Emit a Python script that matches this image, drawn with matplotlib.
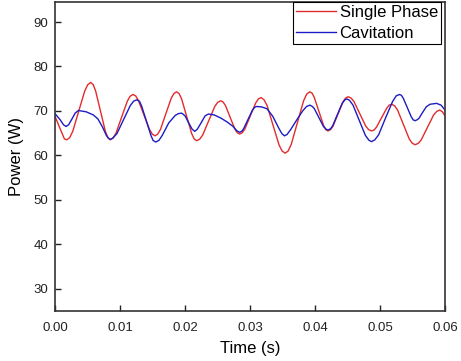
import matplotlib.pyplot as plt

plt.rcParams['font.family'] = ['Liberation Sans', 'DejaVu Sans']

# values
t_single = [0.0, 0.0009, 0.00145, 0.0018, 0.00226, 0.00273, 0.00365, 0.00458, 0.00504, 0.0055,
            0.00588, 0.00625, 0.007, 0.00775, 0.00813, 0.0085, 0.00894, 0.00938, 0.01025, 0.01113,
            0.01156, 0.012, 0.01243, 0.01285, 0.0137, 0.01455, 0.01498, 0.0154, 0.01581, 0.01623,
            0.01705, 0.01788, 0.01829, 0.0187, 0.01909, 0.01948, 0.02025, 0.02103, 0.02141, 0.0218,
            0.02226, 0.02273, 0.02365, 0.02458, 0.02504, 0.0255, 0.02586, 0.02623, 0.02695, 0.02768,
            0.02804, 0.0284, 0.02881, 0.02923, 0.03005, 0.03088, 0.03129, 0.0317, 0.03216, 0.03263,
            0.03355, 0.03448, 0.03494, 0.0354, 0.03588, 0.03635, 0.0373, 0.03825, 0.03873, 0.0392,
            0.03955, 0.0399, 0.0406, 0.0413, 0.04165, 0.042, 0.04239, 0.04278, 0.04355, 0.04433,
            0.04471, 0.0451, 0.04555, 0.046, 0.0469, 0.0478, 0.04825, 0.0487, 0.04909, 0.04948,
            0.05025, 0.05103, 0.05141, 0.0518, 0.05225, 0.0527, 0.0536, 0.0545, 0.05495, 0.0554,
            0.05588, 0.05635, 0.0573, 0.05825, 0.05873, 0.0592, 0.0596, 0.06]
p_single = [68.8, 65.6, 63.7, 63.5, 63.99, 65.4, 69.95, 74.5, 75.9, 76.4,
            75.9, 74.5, 69.95, 65.4, 64.0, 63.5, 63.9, 65.0, 68.6, 72.2,
            73.3, 73.7, 73.35, 72.3, 69.05, 65.8, 64.75, 64.4, 64.8, 65.85,
            69.35, 72.85, 73.9, 74.3, 73.9, 72.7, 68.8, 64.9, 63.7, 63.3,
            63.65, 64.6, 67.8, 71.0, 71.95, 72.3, 72.0, 71.2, 68.55, 65.9,
            65.1, 64.8, 65.1, 66.0, 68.9, 71.8, 72.7, 73.0, 72.5, 71.2,
            66.75, 62.3, 61.0, 60.5, 61.0, 62.5, 67.4, 72.3, 73.8, 74.3,
            74.0, 73.0, 69.9, 66.8, 65.8, 65.5, 65.8, 66.6, 69.35, 72.1,
            72.9, 73.2, 72.9, 72.1, 69.35, 66.6, 65.8, 65.5, 65.7, 66.4,
            68.5, 70.6, 71.3, 71.5, 71.15, 70.2, 66.95, 63.7, 62.75, 62.4,
            62.7, 63.5, 66.3, 69.1, 69.9, 70.2, 69.8, 68.9]

t_cav = [0.0, 0.0008, 0.0013, 0.0017, 0.0021, 0.00265, 0.0031, 0.0036, 0.0048, 0.0059,
         0.0066, 0.0073, 0.0079, 0.0082, 0.0085, 0.0089, 0.00953, 0.01055, 0.01158, 0.0121,
         0.0126, 0.0130, 0.01333, 0.01405, 0.01478, 0.0151, 0.0155, 0.0160, 0.0165, 0.0175,
         0.0185, 0.0190, 0.0195, 0.0200, 0.0205, 0.0211, 0.0215, 0.0219, 0.02255, 0.0231,
         0.0236, 0.0245, 0.0255, 0.0265, 0.0274, 0.0280, 0.0284, 0.0288, 0.02905, 0.0297,
         0.03035, 0.0307, 0.031, 0.0318, 0.0326, 0.0335, 0.0344, 0.0349, 0.0353, 0.0357,
         0.0363, 0.0372, 0.0381, 0.0387, 0.0392, 0.0396, 0.0399, 0.0406, 0.0413, 0.0417,
         0.042, 0.0424, 0.04273, 0.04345, 0.04418, 0.0446, 0.0449, 0.0453, 0.04585, 0.0468,
         0.04775, 0.0483, 0.0487, 0.0492, 0.04978, 0.05085, 0.05193, 0.0525, 0.053, 0.0533,
         0.0536, 0.0542, 0.0548, 0.0551, 0.0554, 0.0557, 0.05598, 0.05655, 0.05713, 0.0577,
         0.0587, 0.0594, 0.06]
p_cav = [69.4, 68.0, 66.9, 66.5, 66.9, 68.3, 69.5, 70.1, 69.8, 69.1,
         68.2, 66.4, 64.5, 63.9, 63.6, 63.9, 64.9, 68.05, 71.2, 72.2,
         72.5, 72.15, 71.1, 67.75, 64.4, 63.35, 63.0, 63.4, 64.5, 67.3,
         69.0, 69.4, 69.5, 68.9, 67.5, 65.9, 65.4, 65.9, 67.5, 68.9,
         69.3, 69.1, 68.4, 67.5, 66.5, 65.5, 65.2, 65.5, 66.1, 68.1,
         70.1, 70.8, 71.0, 70.9, 70.5, 68.8, 66.2, 64.9, 64.4, 64.7,
         65.9, 68.0, 70.0, 71.0, 71.3, 71.0, 70.5, 68.5, 66.5, 65.9,
         65.7, 66.0, 66.7, 69.2, 71.7, 72.5, 72.7, 72.4, 71.3, 67.9,
         64.5, 63.4, 63.1, 63.5, 64.6, 68.4, 72.1, 73.4, 73.7, 73.5,
         72.8, 70.75, 68.7, 68.0, 67.8, 68.0, 68.3, 69.65, 70.95, 71.5,
         71.7, 71.3, 70.2]

fig = plt.figure(figsize=(4.61, 3.61), dpi=100)
ax = fig.add_axes([55 / 461, 50 / 361, 390 / 461, 309 / 361])

ax.plot(t_single, p_single, color='#e32b2b', lw=1.0, solid_joinstyle='round',
        label='Single Phase')
ax.plot(t_cav, p_cav, color='#1c1cc4', lw=1.0, solid_joinstyle='round',
        label='Cavitation')

ax.set_xlim(0, 0.06)
ax.set_ylim(25, 94.5)
ax.set_xticks([0.0, 0.01, 0.02, 0.03, 0.04, 0.05, 0.06])
ax.set_xticklabels(['0.00', '0.01', '0.02', '0.03', '0.04', '0.05', '0.06'])
ax.set_yticks([30, 40, 50, 60, 70, 80, 90])
ax.tick_params(direction='in', length=4, width=1, labelsize=9.5, colors='#222222',
               labelcolor='#222222', top=False, right=False)
ax.tick_params(axis='x', pad=8)
ax.tick_params(axis='y', pad=5)
for s in ax.spines.values():
    s.set_linewidth(1.2)
    s.set_color('#333333')

ax.set_xlabel('Time (s)', fontsize=12, labelpad=5)
ax.set_ylabel('Power (W)', fontsize=12, labelpad=7)

leg = ax.legend(loc='upper right', bbox_to_anchor=(0.99, 1.0), borderaxespad=0,
                fancybox=False, framealpha=1, edgecolor='black', fontsize=12,
                handlelength=2.4, handletextpad=0.2, borderpad=0.2, labelspacing=0.32)
leg.get_frame().set_linewidth(0.8)

fig.savefig('out.png', dpi=100)
